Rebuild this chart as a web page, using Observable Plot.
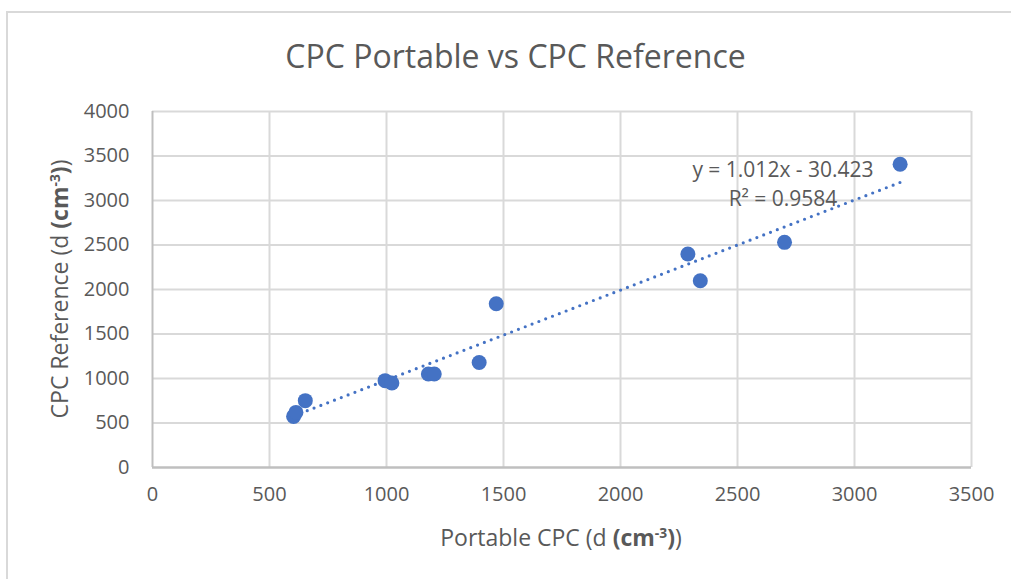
<!DOCTYPE html>
<html>
<head>
<meta charset="utf-8">
<script src="https://cdn.jsdelivr.net/npm/d3@7"></script>
<script src="https://cdn.jsdelivr.net/npm/@observablehq/plot@0.6"></script>
<style>
  html, body { margin: 0; padding: 0; background: #fff; }
  #wrap { position: relative; width: 1011px; height: 579px; overflow: hidden; font-family: "Open Sans", sans-serif; color: #595959; }
  #border { position: absolute; left: 6px; top: 11px; width: 1100px; height: 700px; border: 2px solid #d9d9d9; box-sizing: border-box; }
  #chart { position: absolute; left: 0; top: 0; }
  .title { position: absolute; left: 0; width: 1031px; top: 35px; text-align: center; font-size: 32px; line-height: 42px; white-space: nowrap; }
  .xlabel { position: absolute; left: 0; width: 1122px; top: 522px; text-align: center; font-size: 23px; line-height: 30px; white-space: nowrap; }
  .ylabel { position: absolute; left: 59px; top: 289px; transform: translate(-50%, -50%) rotate(-90deg); font-size: 23px; line-height: 30px; white-space: nowrap; }
  .eq { position: absolute; left: 783px; transform: translateX(-50%); font-size: 21px; line-height: 26px; white-space: nowrap; }
  sup { font-size: 0.6em; vertical-align: 0.6em; line-height: 0; }
</style>
</head>
<body>
<div id="wrap">
  <div id="border"></div>
  <div id="chart"></div>
  <div class="title">CPC Portable vs CPC Reference</div>
  <div class="ylabel">CPC Reference (d <b>(cm<sup>-3</sup>)</b>)</div>
  <div class="xlabel">Portable CPC (d <b>(cm<sup>-3</sup>)</b>)</div>
  <div class="eq" id="eq1" style="top:156px"></div>
  <div class="eq" id="eq2" style="top:185px"></div>
</div>
<script>
// Data
const portableCPC = [603, 613, 653, 994, 1023, 1179, 1204, 1396, 1469, 2288, 2341, 2701, 3195];
const referenceCPC = [574, 619, 751, 976, 950, 1051, 1051, 1179, 1840, 2399, 2099, 2530, 3408];
const xTicks = [0, 500, 1000, 1500, 2000, 2500, 3000, 3500];
const yTicks = [0, 500, 1000, 1500, 2000, 2500, 3000, 3500, 4000];
const trendSlope = 1.012;
const trendIntercept = -30.423;
const rSquared = 0.9584;

const points = portableCPC.map((x, i) => ({x, y: referenceCPC[i]}));
const xMin = d3.min(portableCPC), xMax = d3.max(portableCPC);
const trend = [xMin, xMax].map(x => ({x, y: trendSlope * x + trendIntercept}));

const plot = Plot.plot({
  width: 1011,
  height: 579,
  marginLeft: 152,
  marginRight: 40,
  marginTop: 111,
  marginBottom: 112,
  style: { fontFamily: "'Open Sans', sans-serif", fontSize: "20px", color: "#595959", background: "transparent" },
  x: { domain: [0, 3500], ticks: xTicks, tickFormat: d => String(d), tickSize: 0, tickPadding: 19, label: null },
  y: { domain: [0, 4000], ticks: yTicks, tickFormat: d => String(d), tickSize: 0, tickPadding: 23, label: null },
  marks: [
    Plot.gridX(xTicks.slice(1), { stroke: "#d9d9d9", strokeOpacity: 1, strokeWidth: 2 }),
    Plot.gridY(yTicks.slice(1), { stroke: "#d9d9d9", strokeOpacity: 1, strokeWidth: 2 }),
    Plot.ruleX([0], { stroke: "#bfbfbf", strokeWidth: 2 }),
    Plot.ruleY([0], { stroke: "#bfbfbf", strokeWidth: 2.5 }),
    Plot.line(trend, { x: "x", y: "y", stroke: "#4472C4", strokeWidth: 3.2, strokeDasharray: "0,7.3", strokeLinecap: "round" }),
    Plot.dot(points, { x: "x", y: "y", r: 7.5, fill: "#4472C4", stroke: "none" })
  ]
});
document.getElementById("chart").appendChild(plot);

const sign = trendIntercept < 0 ? " - " : " + ";
document.getElementById("eq1").textContent = `y = ${trendSlope.toFixed(3)}x${sign}${Math.abs(trendIntercept).toFixed(3)}`;
document.getElementById("eq2").innerHTML = `R² = ${rSquared.toFixed(4)}`;
</script>
</body>
</html>
